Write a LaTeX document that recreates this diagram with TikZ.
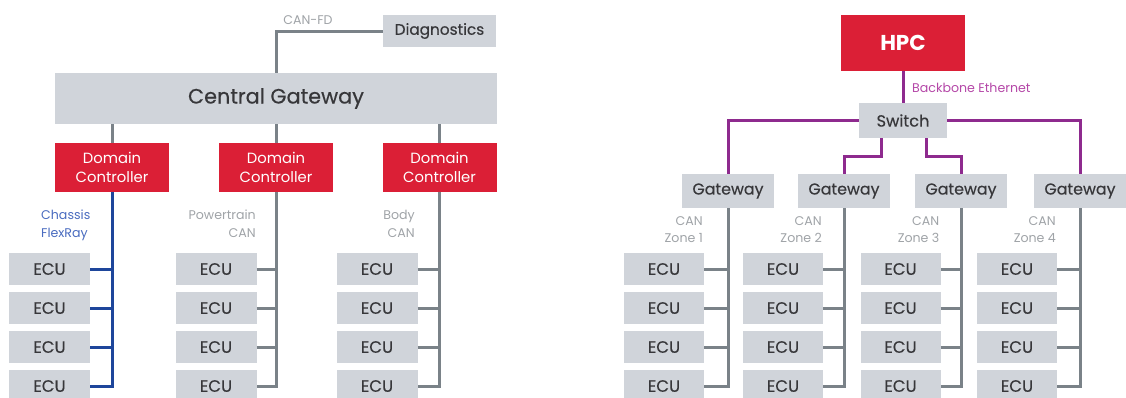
\documentclass[tikz,border=0pt]{standalone}
\usepackage{fontspec}
\setmainfont{Poppins}
\newfontfamily\medfont{Poppins}[FakeBold=0.35]
\definecolor{boxgray}{RGB}{208,212,218}
\definecolor{linegray}{RGB}{122,130,136}
\definecolor{dred}{RGB}{219,31,54}
\definecolor{busblue}{RGB}{30,70,155}
\definecolor{buspurple}{RGB}{142,42,142}
\definecolor{txtdark}{RGB}{55,55,58}
\definecolor{lblgray}{RGB}{160,164,168}
\definecolor{lblblue}{RGB}{74,108,192}
\definecolor{lblpurple}{RGB}{181,72,168}
\tikzset{
  graybox/.style={fill=boxgray, draw=none, inner sep=0pt, text=txtdark, align=center},
  redbox/.style={fill=dred, draw=none, inner sep=0pt, text=white, align=center},
  ecubox/.style={graybox, minimum width=81pt, minimum height=32pt, font=\medfont\fontsize{16.5}{17}\selectfont},
  gwbox/.style={graybox, minimum width=92pt, minimum height=34pt, font=\medfont\fontsize{15.8}{17}\selectfont},
  dcbox/.style={redbox, minimum width=114pt, minimum height=49pt, font=\fontsize{14.8}{19}\selectfont},
  grayline/.style={draw=linegray, line width=3pt, line join=miter},
  blueline/.style={draw=busblue, line width=3pt, line join=miter},
  purpleline/.style={draw=buspurple, line width=3pt, line join=miter},
  smalllbl/.style={inner sep=0pt, font=\fontsize{12.6}{17.5}\selectfont, text=lblgray},
}
\begin{document}
\begin{tikzpicture}[x=1pt,y=-1pt]
\useasboundingbox[fill=white] (0,0) rectangle (1126,397);
% ---------- left: domain architecture ----------
\node[graybox, minimum width=113pt, minimum height=32pt, font=\medfont\fontsize{15.3}{17}\selectfont] (diag) at (439.5,31) {Diagnostics};
\node[graybox, minimum width=442pt, minimum height=51pt, font=\medfont\fontsize{20.8}{22}\selectfont] (cg) at (276,98.5) {Central Gateway};
\node[dcbox] (dc1) at (112,167.5) {Domain\\Controller};
\node[dcbox] (dc2) at (276,167.5) {Domain\\Controller};
\node[dcbox] (dc3) at (439.5,167.5) {Domain\\Controller};
\node[smalllbl, anchor=south] (canfd) at (308,25) {CAN-FD};
\draw[grayline] (diag.west) -| (cg.north);
\foreach \d in {dc1,dc2,dc3}{\draw[grayline] (\d.north) -- (\d.north |- cg.south);}
\foreach \c/\x in {1/49.5,2/216,3/377}{
  \foreach \r/\y in {1/269,2/308,3/347,4/386}{
    \node[ecubox] (e\c\r) at (\x,\y) {ECU};
  }
}
\node[smalllbl, text=lblblue, align=left, anchor=north west] (lbl1) at (41,210) {Chassis\\FlexRay};
\node[smalllbl, align=right, anchor=north east] (lbl2) at (256,210) {Powertrain\\CAN};
\node[smalllbl, align=right, anchor=north east] (lbl3) at (415,210) {Body\\CAN};
\draw[blueline] (dc1.south) |- (e14.east);
\foreach \r in {1,2,3}{\draw[blueline] (e1\r.east) -- (e1\r.east -| dc1.south);}
\draw[grayline] (dc2.south) |- (e24.east);
\foreach \r in {1,2,3}{\draw[grayline] (e2\r.east) -- (e2\r.east -| dc2.south);}
\draw[grayline] (dc3.south) |- (e34.east);
\foreach \r in {1,2,3}{\draw[grayline] (e3\r.east) -- (e3\r.east -| dc3.south);}
% ---------- right: zonal architecture ----------
\node[redbox, minimum width=124pt, minimum height=56pt, font=\fontsize{21.5}{23}\selectfont\bfseries] (hpc) at (903,43) {HPC};
\node[graybox, minimum width=88pt, minimum height=35pt, font=\medfont\fontsize{16.2}{17}\selectfont] (sw) at (903,120.5) {Switch};
\node[smalllbl, text=lblpurple, anchor=west] (bb) at (912,88) {Backbone Ethernet};
\node[gwbox] (g1) at (728,191) {Gateway};
\node[gwbox] (g2) at (844,191) {Gateway};
\node[gwbox] (g3) at (961,191) {Gateway};
\node[gwbox] (g4) at (1080,191) {Gateway};
\draw[purpleline] (hpc.south) -- (sw.north);
\draw[purpleline] (sw.west) -| (g1.north);
\draw[purpleline] (sw.east) -| (g4.north);
\coordinate (s2) at ([xshift=-22pt]sw.south);
\coordinate (s3) at ([xshift=23pt]sw.south);
\draw[purpleline] (s2) |- ([yshift=17pt]g2.north) -- (g2.north);
\draw[purpleline] (s3) |- ([yshift=17pt]g3.north) -- (g3.north);
\foreach \c/\x in {1/664,2/783,3/900.5,4/1017}{
  \foreach \r/\y in {1/269,2/308,3/347,4/386}{
    \node[ecubox, minimum width=80pt] (z\c\r) at (\x,\y) {ECU};
  }
  \node[smalllbl, align=right, anchor=north east] (zl\c) at (\x+39,216) {CAN\\Zone \c};
  \draw[grayline] (g\c.south) |- (z\c4.east);
  \foreach \r in {1,2,3}{\draw[grayline] (z\c\r.east) -- (z\c\r.east -| g\c.south);}
}
\end{tikzpicture}
\end{document}
